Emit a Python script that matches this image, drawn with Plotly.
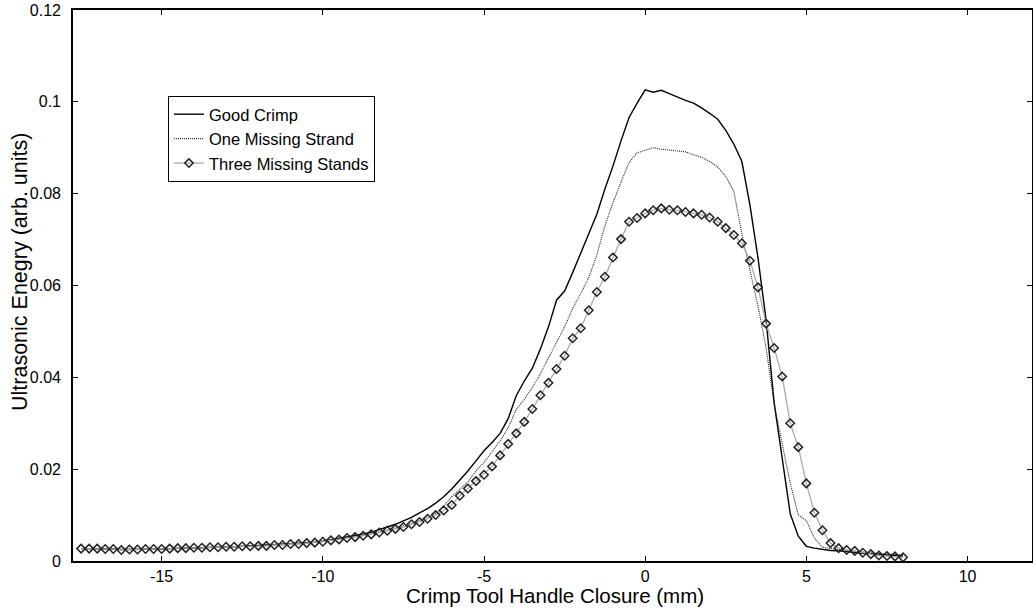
import plotly.graph_objects as go

# x positions (mm), 0.25 mm spacing from -17.5 to 8.0
closure_mm = [round(-17.5 + 0.25 * i, 2) for i in range(103)]

good_crimp = [
    0.0027, 0.0027, 0.0027, 0.0026, 0.0026, 0.0025, 0.0025, 0.0025, 0.0026, 0.0026,
    0.0026, 0.0027, 0.0028, 0.0028, 0.0029, 0.0029, 0.0030, 0.0030, 0.0031, 0.0031,
    0.0032, 0.0032, 0.0033, 0.0034, 0.0035, 0.0036, 0.0037, 0.0038, 0.0040, 0.0041,
    0.0043, 0.0046, 0.0049, 0.0052, 0.0055, 0.0059, 0.0063, 0.0068, 0.0074, 0.0080,
    0.0087, 0.0095, 0.0105, 0.0114, 0.0126, 0.0140, 0.0157, 0.0176, 0.0196, 0.0218,
    0.0240, 0.0258, 0.0278, 0.0310, 0.0360, 0.0392, 0.0420, 0.0462, 0.0510, 0.0568,
    0.0588, 0.0628, 0.0670, 0.0710, 0.0755, 0.0810, 0.0860, 0.0915, 0.0966, 0.0997,
    0.1026, 0.1021, 0.1025, 0.1018, 0.1010, 0.1003, 0.0997, 0.0987, 0.0975, 0.0962,
    0.0938, 0.0908, 0.0870, 0.0775, 0.0660, 0.0525, 0.0345, 0.0225, 0.0103, 0.0054,
    0.0032, 0.0028, 0.0025, 0.0023, 0.0022, 0.0020, 0.0019, 0.0017, 0.0016, 0.0015,
    0.0013, 0.0012, 0.0011,
]

one_missing = [
    0.0027, 0.0027, 0.0027, 0.0026, 0.0026, 0.0025, 0.0025, 0.0025, 0.0026, 0.0026,
    0.0026, 0.0027, 0.0028, 0.0028, 0.0029, 0.0029, 0.0030, 0.0030, 0.0031, 0.0031,
    0.0032, 0.0032, 0.0033, 0.0033, 0.0035, 0.0035, 0.0037, 0.0037, 0.0039, 0.0040,
    0.0042, 0.0045, 0.0047, 0.0050, 0.0053, 0.0056, 0.0059, 0.0063, 0.0067, 0.0072,
    0.0076, 0.0082, 0.0088, 0.0095, 0.0104, 0.0120, 0.0140, 0.0155, 0.0172, 0.0196,
    0.0215, 0.0238, 0.0262, 0.0290, 0.0330, 0.0352, 0.0378, 0.0408, 0.0442, 0.0478,
    0.0510, 0.0550, 0.0582, 0.0618, 0.0666, 0.0730, 0.0780, 0.0825, 0.0868, 0.0889,
    0.0895, 0.0900, 0.0897, 0.0895, 0.0893, 0.0891, 0.0885, 0.0879, 0.0870, 0.0858,
    0.0838, 0.0805, 0.0712, 0.0630, 0.0555, 0.0465, 0.0342, 0.0255, 0.0170, 0.0100,
    0.0088, 0.0050, 0.0030, 0.0027, 0.0025, 0.0023, 0.0021, 0.0019, 0.0018, 0.0016,
    0.0015, 0.0014, 0.0013,
]

three_missing = [
    0.0027, 0.0027, 0.0027, 0.0026, 0.0026, 0.0024, 0.0025, 0.0025, 0.0026, 0.0026,
    0.0026, 0.0027, 0.0028, 0.0028, 0.0029, 0.0029, 0.0030, 0.0030, 0.0031, 0.0031,
    0.0032, 0.0032, 0.0033, 0.0033, 0.0035, 0.0035, 0.0037, 0.0037, 0.0039, 0.0040,
    0.0042, 0.0045, 0.0047, 0.0050, 0.0052, 0.0055, 0.0058, 0.0062, 0.0066, 0.0070,
    0.0074, 0.0080, 0.0085, 0.0092, 0.0100, 0.0110, 0.0122, 0.0142, 0.0158, 0.0174,
    0.0188, 0.0206, 0.0230, 0.0255, 0.0278, 0.0303, 0.0331, 0.0361, 0.0388, 0.0418,
    0.0447, 0.0485, 0.0507, 0.0546, 0.0586, 0.0619, 0.0661, 0.0701, 0.0739, 0.0747,
    0.0757, 0.0764, 0.0768, 0.0765, 0.0764, 0.0760, 0.0757, 0.0754, 0.0748, 0.0739,
    0.0725, 0.0710, 0.0692, 0.0654, 0.0596, 0.0517, 0.0464, 0.0402, 0.0300, 0.0248,
    0.0169, 0.0105, 0.0067, 0.0039, 0.0028, 0.0024, 0.0022, 0.0018, 0.0015, 0.0012,
    0.0011, 0.0010, 0.0008,
]

series_names = ["Good Crimp", "One Missing Strand", "Three Missing Stands"]

x_tick_vals = [-15, -10, -5, 0, 5, 10]
x_tick_text = ["-15", "-10", "-5", "0", "5", "10"]
y_tick_vals = [0, 0.02, 0.04, 0.06, 0.08, 0.1, 0.12]
y_tick_text = ["0", "0.02", "0.04", "0.06", "0.08", "0.1", "0.12"]

x_title = "Crimp Tool Handle Closure (mm)"
y_title = "Ultrasonic Enegry (arb. units)"

FONT = "Liberation Sans, Arial, sans-serif"

fig = go.Figure()
fig.add_trace(go.Scatter(
    x=closure_mm, y=good_crimp, name=series_names[0], mode="lines",
    line=dict(color="black", width=1.4),
))
fig.add_trace(go.Scatter(
    x=closure_mm, y=one_missing, name=series_names[1], mode="lines",
    line=dict(color="#222222", width=1.1, dash="1px,1px"),
))
fig.add_trace(go.Scatter(
    x=closure_mm, y=three_missing, name=series_names[2], mode="lines+markers",
    line=dict(color="#aaaaaa", width=1.3),
    marker=dict(symbol="diamond-open", size=6.5, color="#222222", line=dict(width=1.5, color="#222222")),
))

axis_common = dict(
    showline=True, linecolor="black", linewidth=1.6, mirror="ticks",
    ticks="inside", ticklen=5, tickcolor="black", tickwidth=1,
    showgrid=False, zeroline=False, automargin=False,
    tickfont=dict(family=FONT, size=16, color="black"),
)

fig.update_layout(
    template="none",
    width=1033, height=609,
    paper_bgcolor="white", plot_bgcolor="white",
    margin=dict(l=73, r=1, t=10, b=48, pad=0),
    font=dict(family=FONT, size=16, color="black"),
    showlegend=True,
    legend=dict(
        x=0.099, y=0.844, xanchor="left", yanchor="top",
        bgcolor="white", bordercolor="black", borderwidth=1,
        font=dict(family=FONT, size=16.5, color="black"),
        tracegroupgap=0, itemwidth=30,
    ),
    xaxis=dict(range=[-17.75, 12], tickvals=x_tick_vals, ticktext=x_tick_text,
               ticklabelstandoff=0, **axis_common),
    yaxis=dict(range=[0, 0.12], tickvals=y_tick_vals, ticktext=y_tick_text,
               ticklabelstandoff=7, **axis_common),
    annotations=[
        dict(text=x_title, xref="paper", yref="paper", x=0.503, y=0,
             xanchor="center", yanchor="middle", yshift=-34, showarrow=False,
             font=dict(family=FONT, size=20.5, color="black")),
        dict(text=y_title, xref="paper", yref="paper", x=0, y=0.5245,
             xanchor="center", yanchor="middle", xshift=-53, textangle=-90, showarrow=False,
             font=dict(family=FONT, size=21.5, color="black")),
    ],
)

fig.write_html(
    "out.html",
    config={"displayModeBar": False},
    post_script="document.body.style.margin='0';document.body.style.overflow='hidden';",
)
